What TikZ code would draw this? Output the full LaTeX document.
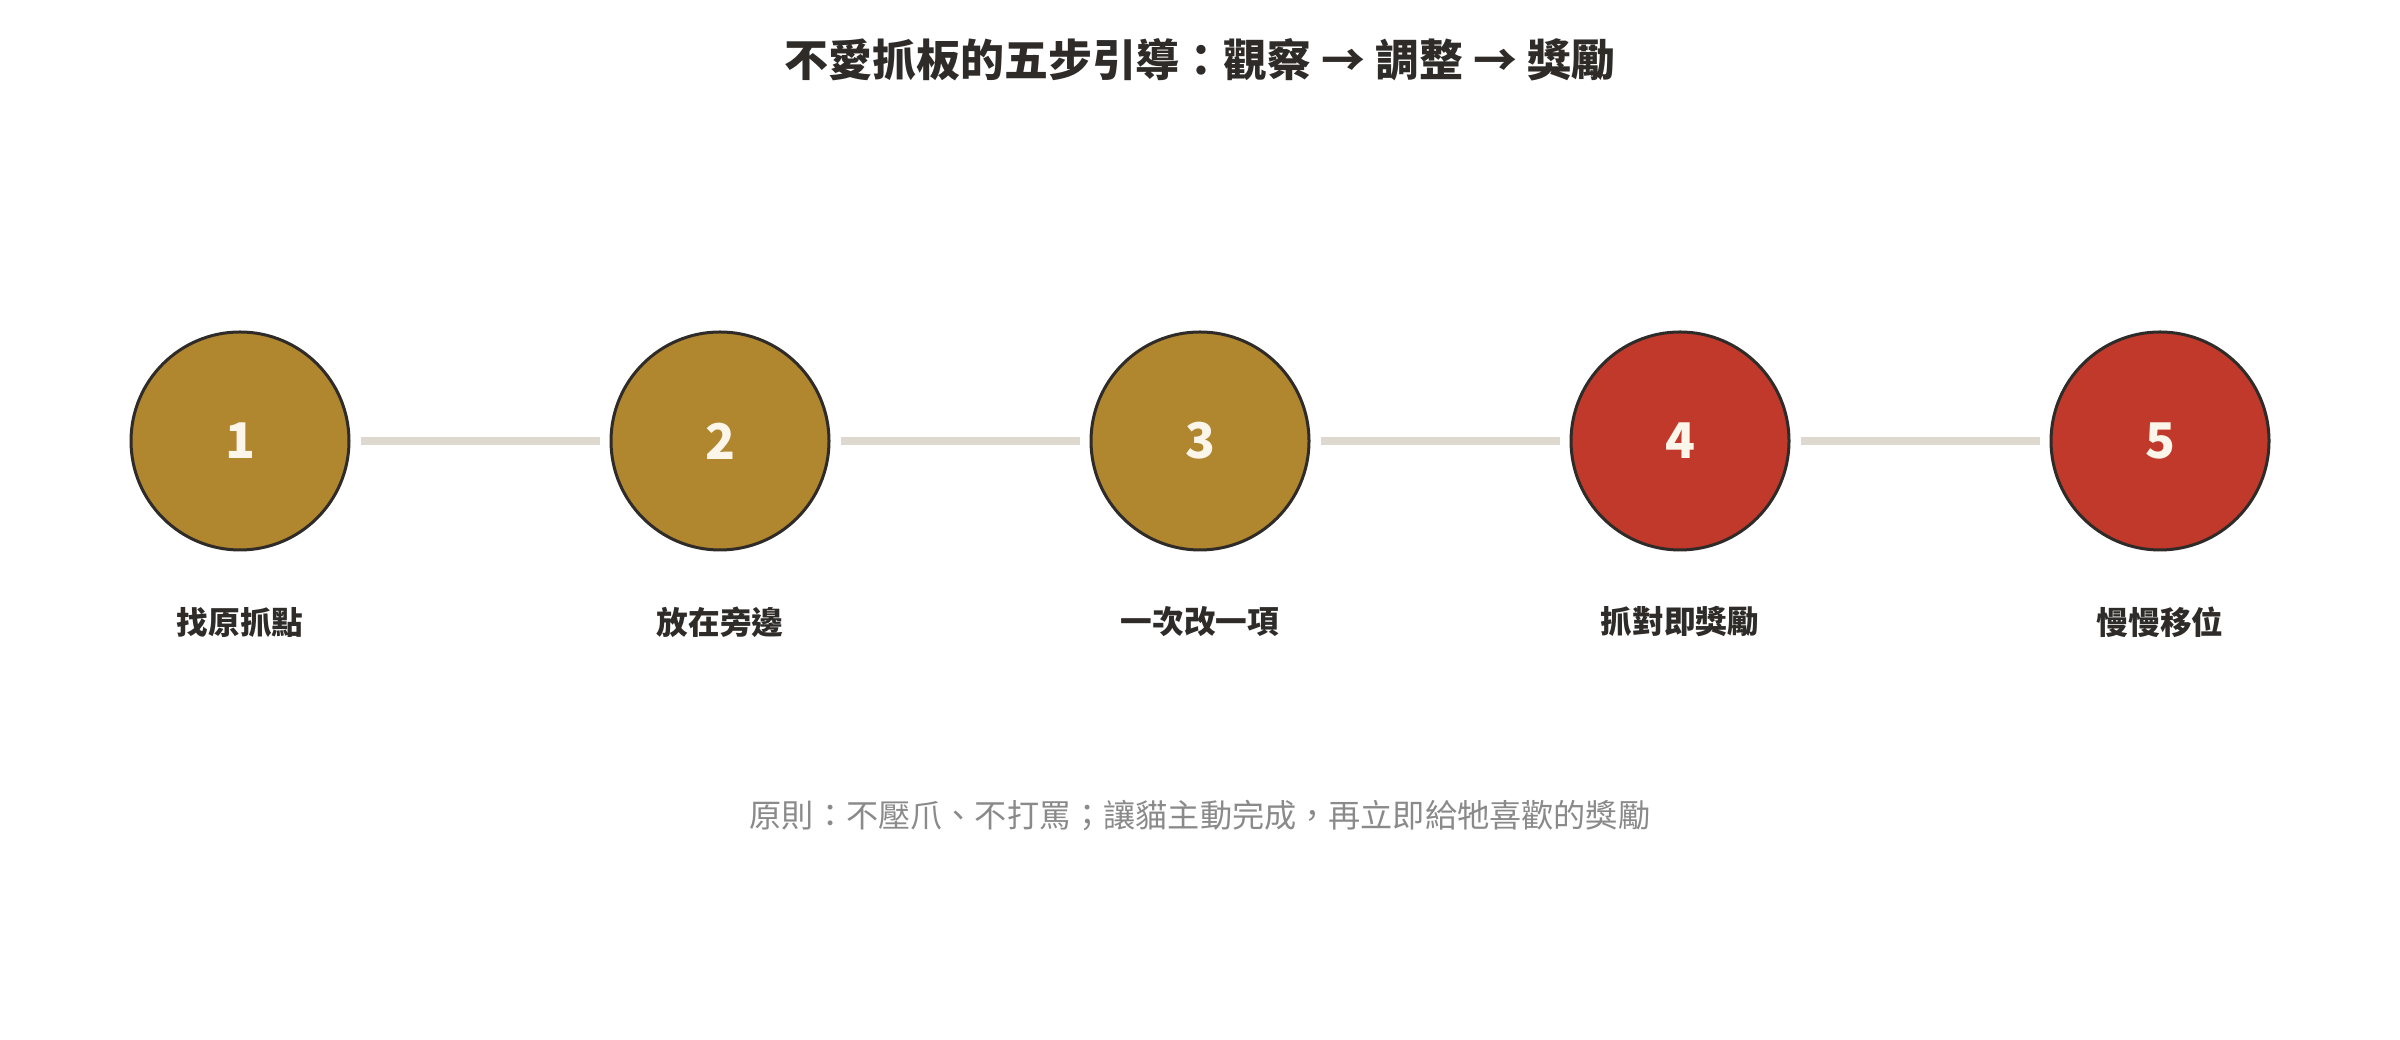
\documentclass[tikz,border=0pt]{standalone}
\usepackage{fontspec}
\setmainfont{Noto Sans CJK TC}
\usetikzlibrary{calc}

\definecolor{ink}{HTML}{2E2B28}
\definecolor{gold}{HTML}{B0862E}
\definecolor{brick}{HTML}{C0392B}
\definecolor{cream}{HTML}{FBF5EA}
\definecolor{track}{HTML}{DDD9CE}
\definecolor{notegray}{HTML}{8A8A8A}

\begin{document}
\begin{tikzpicture}[thick]
    \tikzset{
      stepnode/.style={circle, draw=ink, line width=0.3mm, minimum size=2.18cm, inner sep=0pt,
        font=\bfseries\fontsize{14}{16}\selectfont, text=cream},
      steplabel/.style={font=\bfseries\fontsize{9}{11}\selectfont, text=ink},
      track line/.style={line width=0.8mm, draw=track, shorten <=1mm, shorten >=1mm},
    }
    \useasboundingbox (0,0) rectangle (24,10.4);
    \node [font=\bfseries\fontsize{12.5}{15}\selectfont, text=ink] (title) at (12,9.8)
      {不愛抓板的五步引導：觀察 → 調整 → 獎勵};

    \foreach \i/\col in {1/gold,2/gold,3/gold,4/brick,5/brick}
      \node [stepnode, fill=\col] (s\i) at ({2.4+4.8*(\i-1)},5.99) {\i};
    \foreach \i/\txt in {1/找原抓點,2/放在旁邊,3/一次改一項,4/抓對即獎勵,5/慢慢移位}
      \node [steplabel] (l\i) at ($ (s\i) + (0,-1.81) $) {\txt};
    \foreach \a/\b in {1/2,2/3,3/4,4/5}
      \draw [track line] (s\a) -- (s\b);

    \node [font=\fontsize{9.15}{11}\selectfont, text=notegray] (note) at (12,2.24)
      {原則：不壓爪、不打罵；讓貓主動完成，再立即給牠喜歡的獎勵};
  \end{tikzpicture}
\end{document}
